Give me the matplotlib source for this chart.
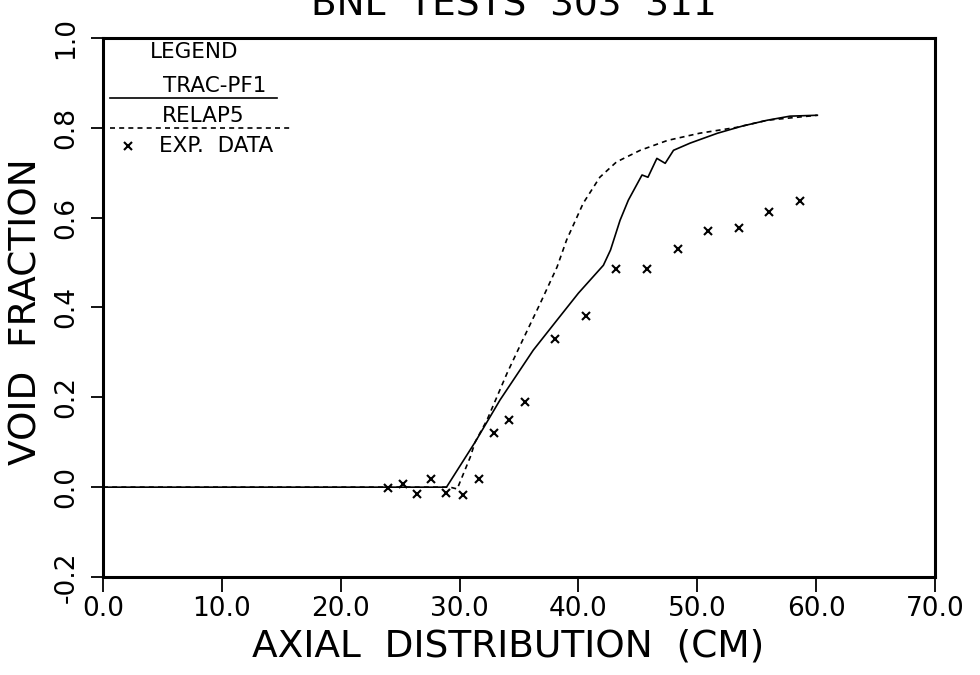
import numpy as np
import matplotlib
matplotlib.use('Agg')
import matplotlib.pyplot as plt

# TRAC-PF1 (solid)
trac_x = [0.0, 28.9, 31.3, 33.4, 36.2, 38.2, 40.0, 42.1, 42.7, 43.5, 44.2, 45.35,
          45.85, 46.6, 47.3, 48.0, 49.4, 51.7, 53.8, 55.9, 57.8, 60.1]
trac_y = [0.0, 0.0, 0.100, 0.194, 0.305, 0.372, 0.432, 0.494, 0.528, 0.594, 0.639, 0.695,
          0.690, 0.732, 0.721, 0.750, 0.766, 0.788, 0.804, 0.817, 0.826, 0.828]

# RELAP5 (dashed)
relap_x = [0.0, 29.2, 29.8, 30.0, 30.9, 31.3, 32.3, 34.0, 35.3, 36.8, 38.2, 39.0,
           40.4, 41.8, 43.2, 45.2, 47.5, 50.2, 53.3, 55.9, 60.1]
relap_y = [0.0, 0.0, -0.004, 0.009, 0.067, 0.100, 0.149, 0.254, 0.327, 0.410, 0.490, 0.550,
           0.632, 0.690, 0.724, 0.750, 0.772, 0.788, 0.801, 0.817, 0.828]

# experimental data (x markers)
exp_x = [24.0, 25.2, 26.4, 27.6, 28.9, 30.3, 31.6, 32.9, 34.2, 35.5, 38.0, 40.6,
         43.2, 45.8, 48.4, 50.9, 53.5, 56.0, 58.6]
exp_y = [-0.002, 0.007, -0.016, 0.018, -0.013, -0.018, 0.018, 0.12, 0.15, 0.19, 0.33, 0.38,
         0.485, 0.485, 0.53, 0.57, 0.577, 0.612, 0.637]

xticks = [0, 10, 20, 30, 40, 50, 60, 70]
yticks = [-0.2, 0.0, 0.2, 0.4, 0.6, 0.8, 1.0]

plt.rcParams['font.family'] = ['DejaVu Sans']

fig = plt.figure(figsize=(9.8, 6.75), dpi=100)
ax = fig.add_axes([103/980, 1-577/675, (935-103)/980, (577-38)/675])

ax.plot(trac_x, trac_y, color='black', lw=1.2)
ax.plot(relap_x, relap_y, color='black', lw=1.2, linestyle=(0, (3, 2.5)))
ax.plot(exp_x, exp_y, linestyle='none', marker='x', color='black', ms=6, mew=1.5)

ax.set_xlim(0, 70)
ax.set_ylim(-0.2, 1.0)
ax.set_xticks(xticks)
ax.set_xticklabels(['%.1f' % v for v in xticks])
ax.set_yticks(yticks)
ax.set_yticklabels(['%.1f' % v for v in yticks], rotation=90, va='center')

for s in ax.spines.values():
    s.set_linewidth(2.2)
ax.tick_params(axis='x', direction='out', length=11, width=1.3, labelsize=19, pad=3)
ax.tick_params(axis='y', direction='out', length=9, width=1.3, labelsize=19, pad=8)

# legend block, drawn by hand like the original plotter output
lg = dict(transform=ax.transAxes, fontsize=15.5)
ax.text(0.0565, 0.993, 'LEGEND', va='top', **lg)
ax.text(0.072, 0.930, 'TRAC-PF1', va='top', **lg)
ax.plot([0.0084, 0.209], [0.889, 0.889], transform=ax.transAxes, color='black', lw=1.2)
ax.text(0.071, 0.874, 'RELAP5', va='top', **lg)
ax.plot([0.0084, 0.225], [0.833, 0.833], transform=ax.transAxes, color='black', lw=1.2,
        linestyle=(0, (3, 2.5)))
ax.plot([0.030], [0.799], transform=ax.transAxes, marker='x', color='black', ms=6, mew=1.5,
        linestyle='none')
ax.text(0.067, 0.799, 'EXP.  DATA', va='center', **lg)

# title is clipped by the top edge in the original scan
fig.text(514/980, 1-15/675, 'BNL  TESTS  303  311', ha='center', va='baseline', fontsize=27)
fig.text(508/980, 1-646/675, 'AXIAL  DISTRIBUTION  (CM)', ha='center', va='center', fontsize=27)
fig.text(27/980, 1-312/675, 'VOID  FRACTION', ha='center', va='center', rotation=90, fontsize=27)

fig.savefig('out.png', dpi=100)
